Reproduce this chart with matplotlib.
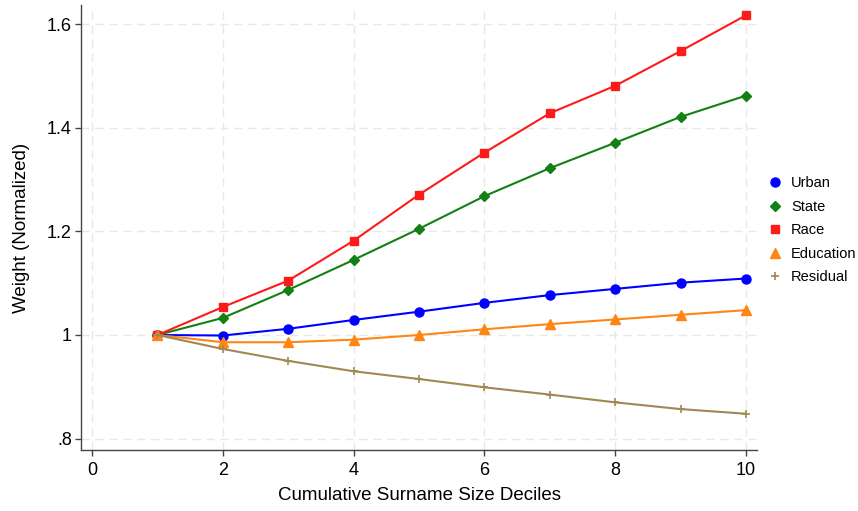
import matplotlib.pyplot as plt
from matplotlib.lines import Line2D

plt.rcParams['font.family'] = ['Liberation Sans', 'DejaVu Sans']

# cumulative surname size deciles
deciles = [1, 2, 3, 4, 5, 6, 7, 8, 9, 10]
urban = [1.0, 0.999, 1.012, 1.029, 1.045, 1.062, 1.077, 1.089, 1.101, 1.109]
state = [1.0, 1.033, 1.087, 1.145, 1.205, 1.268, 1.322, 1.371, 1.421, 1.462]
race = [1.0, 1.054, 1.105, 1.182, 1.271, 1.352, 1.428, 1.481, 1.548, 1.617]
education = [1.0, 0.986, 0.986, 0.991, 1.0, 1.011, 1.021, 1.030, 1.039, 1.048]
residual = [1.0, 0.973, 0.950, 0.930, 0.915, 0.899, 0.885, 0.870, 0.857, 0.848]

xticks = [0, 2, 4, 6, 8, 10]
yticks = [0.8, 1.0, 1.2, 1.4, 1.6]
ytick_labels = ['.8', '1', '1.2', '1.4', '1.6']

fig = plt.figure(figsize=(8.58, 5.11), dpi=100)
ax = fig.add_axes([81/858, 1 - 450/511, (757 - 81)/858, (450 - 5)/511])

styles = [
    (urban, 'Urban', '#0000FF', 'o', 6.5),
    (state, 'State', '#138013', 'D', 5.5),
    (race, 'Race', '#FF1A1A', 's', 6),
    (education, 'Education', '#FF8515', '^', 6.5),
    (residual, 'Residual', '#A08850', '+', 6),
]
handles = []
for vals, name, col, mk, ms in styles:
    ax.plot(deciles, vals, color=col, marker=mk, markersize=ms, markeredgewidth=1.2 if mk == '+' else 1,
            linewidth=1.5)
    handles.append(Line2D([], [], linestyle='none', color=col, marker=mk, markersize=ms,
                          markeredgewidth=1.2 if mk == '+' else 1, label=name))

ax.set_xlim(-0.17, 10.17)
ax.set_ylim(0.778, 1.637)
ax.set_xticks(xticks)
ax.set_yticks(yticks)
ax.set_yticklabels(ytick_labels)
ax.tick_params(labelsize=13, length=4.5, width=1, color='#444444', direction='out', pad=2)
ax.tick_params(axis='x', pad=4)

ax.grid(True, linestyle=(0, (6, 4)), color='#E8E8E8', linewidth=1)
ax.set_axisbelow(True)
for side in ['top', 'right']:
    ax.spines[side].set_visible(False)
for side in ['left', 'bottom']:
    ax.spines[side].set_color('#444444')
    ax.spines[side].set_linewidth(1)

ax.set_xlabel('Cumulative Surname Size Deciles', fontsize=13.5, labelpad=6)
ax.set_ylabel('Weight (Normalized)', fontsize=13.5, labelpad=12)

ax.legend(handles=handles, loc='center left', bbox_to_anchor=((769 - 81) / 676, 0.494), frameon=False,
          fontsize=10.5, handlelength=0.8, handletextpad=0.7, labelspacing=0.65, borderpad=0,
          borderaxespad=0)

fig.savefig('out.png', dpi=100)
